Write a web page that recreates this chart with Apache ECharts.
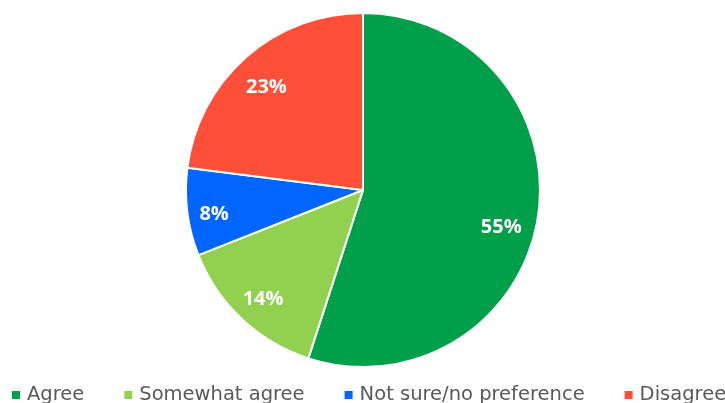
<!DOCTYPE html>
<html>
<head>
<meta charset="utf-8">
<script src="https://cdn.jsdelivr.net/npm/echarts@6/dist/echarts.min.js"></script>
<style>
  html, body { margin: 0; padding: 0; background: #ffffff; }
  #chart { width: 725px; height: 403px; }
</style>
</head>
<body>
<div id="chart"></div>
<script>
// Survey responses, share of respondents (%)
const categories = ['Agree', 'Somewhat agree', 'Not sure/no preference', 'Disagree'];
const shares = [55, 14, 8, 23];
const sliceColors = ['#00A04A', '#92D050', '#0066FF', '#FF4F38'];
// small nudges for the percentage labels, per slice
const labelNudges = [[-3, 15], [-2, 5], [-7, 6], [-2, 5]];

const pieData = categories.map((name, i) => ({ name, value: shares[i] }));
const labelData = categories.map((name, i) => ({
  name,
  value: shares[i],
  label: { offset: labelNudges[i] }
}));

const chart = echarts.init(document.getElementById('chart'), null, { renderer: 'canvas' });

const center = [363, 190];
const outer = 177;

chart.setOption({
  backgroundColor: '#ffffff',
  animation: false,
  color: sliceColors,
  legend: {
    data: categories,
    left: 12,
    top: 385,
    width: 1000,
    padding: 0,
    orient: 'horizontal',
    icon: 'rect',
    itemWidth: 8,
    itemHeight: 8,
    itemGap: 40,
    selectedMode: false,
    itemStyle: { borderWidth: 0 },
    textStyle: {
      color: '#595959',
      fontFamily: 'DejaVu Sans',
      fontSize: 19.5,
      padding: [0, 0, 0, 2]
    }
  },
  series: [
    {
      type: 'pie',
      name: 'slices',
      center: center,
      radius: [0, outer],
      startAngle: 90,
      clockwise: true,
      silent: true,
      itemStyle: { borderColor: '#ffffff', borderWidth: 2 },
      label: { show: false },
      labelLine: { show: false },
      data: pieData
    },
    {
      // transparent ring that carries the percentage labels further out in each slice
      type: 'pie',
      name: 'labels',
      center: center,
      radius: [Math.round(outer * 0.58), outer],
      startAngle: 90,
      clockwise: true,
      silent: true,
      itemStyle: { color: 'rgba(0,0,0,0)', borderWidth: 0 },
      label: {
        show: true,
        position: 'inside',
        formatter: p => p.value + '%',
        color: '#ffffff',
        fontFamily: 'Open Sans',
        fontWeight: 'bold',
        fontSize: 20
      },
      labelLine: { show: false },
      data: labelData
    }
  ]
});
</script>
</body>
</html>
